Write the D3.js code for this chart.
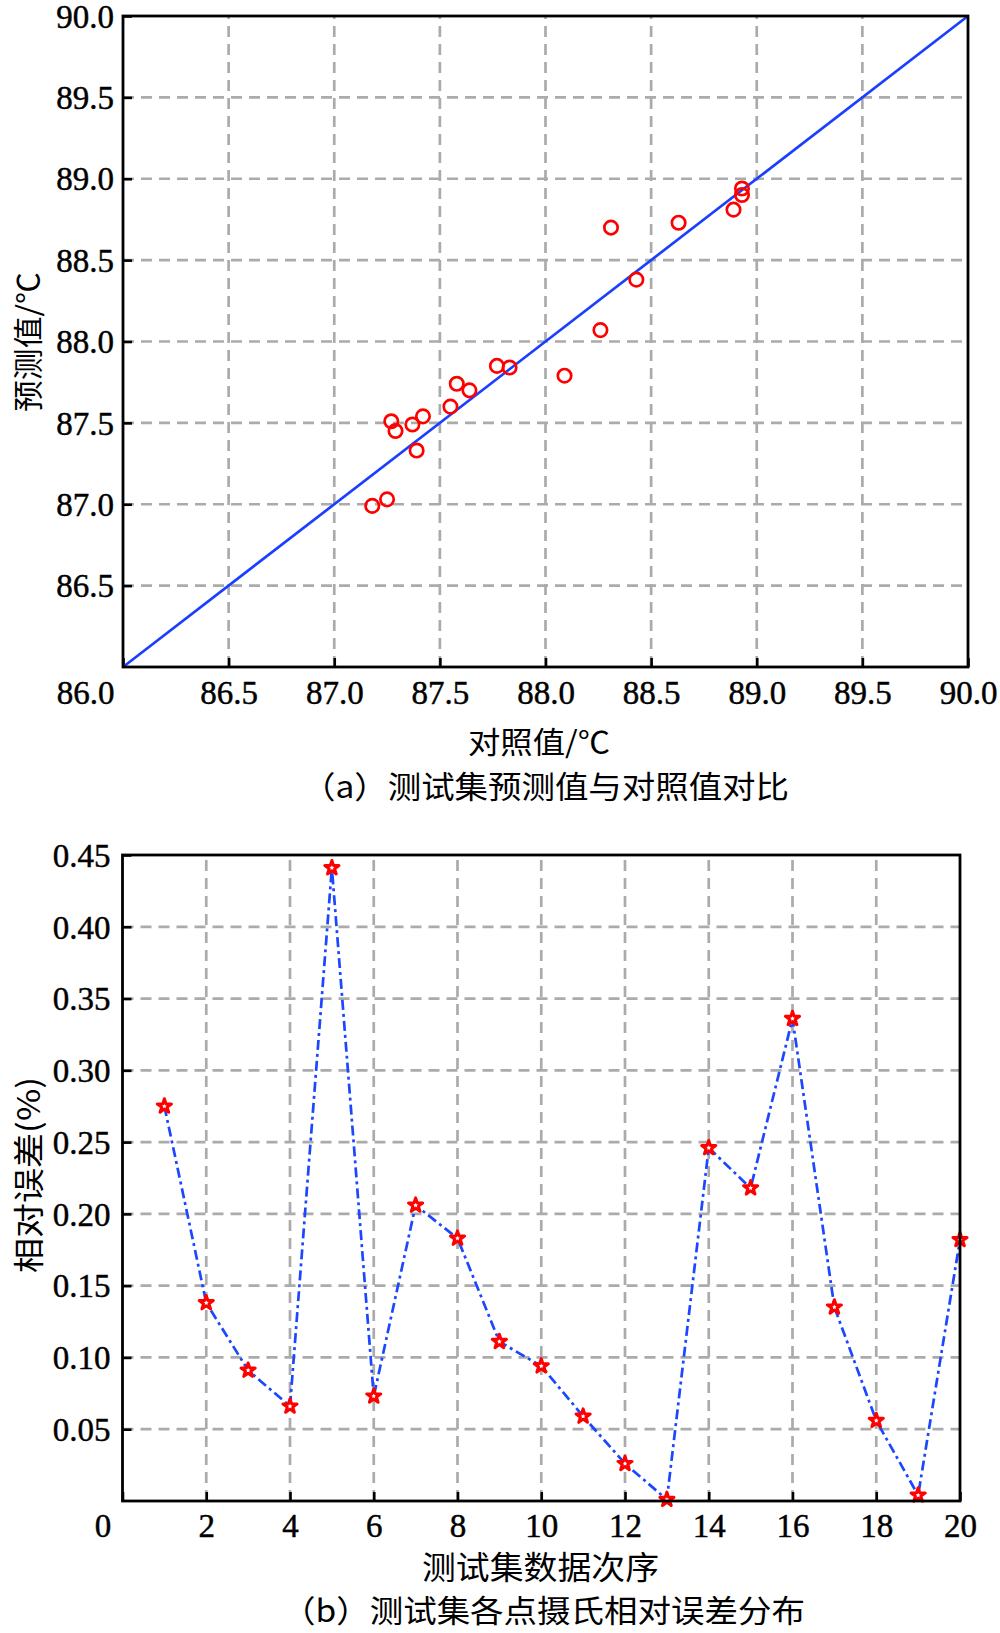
<!DOCTYPE html>
<html><head><meta charset="utf-8">
<script src="https://cdn.jsdelivr.net/npm/d3@7"></script>
<style>
html,body{margin:0;padding:0;background:#fff;}
svg{display:block;}
</style></head>
<body>
<svg id="chart" width="1000" height="1633"></svg>
<script>
// ---------- data ----------
// (a) scatter: control (reference) value vs predicted value, °C
const controlValues = [87.18, 87.25, 87.27, 87.29, 87.39, 87.37, 87.42, 87.55, 87.58, 87.64, 87.77, 87.83, 88.09, 88.26, 88.43, 88.31, 88.63, 88.89, 88.93, 88.93];
const predictedValues = [86.99, 87.03, 87.51, 87.45, 87.33, 87.49, 87.54, 87.60, 87.74, 87.70, 87.85, 87.84, 87.79, 88.07, 88.38, 88.70, 88.73, 88.81, 88.90, 88.94];
const diagLine = [86, 90];
const aTicks = [86.0, 86.5, 87.0, 87.5, 88.0, 88.5, 89.0, 89.5, 90.0];
const aTickLabels = ["86.0","86.5","87.0","87.5","88.0","88.5","89.0","89.5","90.0"];

// (b) relative error per test sample (%)
const sampleIndex = [1,2,3,4,5,6,7,8,9,10,11,12,13,14,15,16,17,18,19,20];
const relError = [0.275, 0.138, 0.091, 0.066, 0.441, 0.073, 0.206, 0.183, 0.111, 0.094, 0.059, 0.026, 0.001, 0.246, 0.218, 0.336, 0.135, 0.056, 0.004, 0.182];
const bXTicks = [0,2,4,6,8,10,12,14,16,18,20];
const bXTickLabels = ["0","2","4","6","8","10","12","14","16","18","20"];
const bYTicks = [0.05,0.10,0.15,0.20,0.25,0.30,0.35,0.40,0.45];
const bYTickLabels = ["0.05","0.10","0.15","0.20","0.25","0.30","0.35","0.40","0.45"];

// texts
const aXTitle = "对照值/℃", aYTitle = "预测值/℃", aCaption = "（a）测试集预测值与对照值对比";
const bXTitle = "测试集数据次序", bYTitle = "相对误差(%)", bCaption = "（b）测试集各点摄氏相对误差分布";

// ---------- drawing ----------
const svg = d3.select("#chart");
const serif = "'Liberation Serif','Times New Roman',serif";
const cjk = "'Noto Sans CJK SC','Noto Sans',sans-serif";
const gridColor = "#ababab";

function frame(g, x, y, xGrid, yGrid) {
  const [x0, x1] = x.range(), [y0, y1] = y.range();
  g.append("g").selectAll("line").data(xGrid).join("line")
    .attr("x1", d => x(d)).attr("x2", d => x(d)).attr("y1", y0).attr("y2", y1)
    .attr("stroke", gridColor).attr("stroke-width", 2.7).attr("stroke-dasharray", "11,7");
  g.append("g").selectAll("line").data(yGrid).join("line")
    .attr("y1", d => y(d)).attr("y2", d => y(d)).attr("x1", x0).attr("x2", x1)
    .attr("stroke", gridColor).attr("stroke-width", 2.7).attr("stroke-dasharray", "11,7");
}
function border(g, x, y) {
  const [x0, x1] = x.range(), [y0, y1] = y.range();
  g.append("rect").attr("x", x0).attr("y", y1).attr("width", x1 - x0).attr("height", y0 - y1)
    .attr("fill", "none").attr("stroke", "#000").attr("stroke-width", 2.8);
}
function styleTickText(sel) {
  sel.attr("font-family", serif).attr("font-size", 33).attr("fill", "#000")
     .attr("stroke", "#000").attr("stroke-width", 0.45);
}

// ===== panel (a) =====
const xA = d3.scaleLinear().domain([86, 90]).range([123, 968]);
const yA = d3.scaleLinear().domain([86, 90]).range([667, 16]);
const gA = svg.append("g");
frame(gA, xA, yA, aTicks.slice(1, -1), aTicks.slice(1, -1));

gA.append("g").attr("transform", `translate(0,${yA.range()[0]})`)
  .call(d3.axisBottom(xA).tickValues(aTicks).tickSize(-9).tickFormat((d,i) => aTickLabels[i]))
  .call(g => { g.select(".domain").remove();
    g.selectAll("line").attr("stroke", "#000").attr("stroke-width", 2.6);
    g.selectAll("text").call(styleTickText)
      .attr("y", 14).attr("dy", "0.71em").attr("dx", (d) => d === 86 ? -38 : 0); });
gA.append("g").attr("transform", `translate(${xA.range()[0]},0)`)
  .call(d3.axisLeft(yA).tickValues(aTicks.slice(1)).tickSize(-9).tickFormat((d,i) => aTickLabels[i+1]))
  .call(g => { g.select(".domain").remove();
    g.selectAll("line").attr("stroke", "#000").attr("stroke-width", 2.6);
    g.selectAll("text").call(styleTickText).attr("x", -9).attr("dy", "0.34em"); });

// diagonal y=x line
gA.append("line")
  .attr("x1", xA(diagLine[0])).attr("y1", yA(diagLine[0]))
  .attr("x2", xA(diagLine[1])).attr("y2", yA(diagLine[1]))
  .attr("stroke", "#1a3fff").attr("stroke-width", 2.7);

// scatter circles
gA.append("g").selectAll("circle").data(controlValues).join("circle")
  .attr("cx", d => xA(d)).attr("cy", (d, i) => yA(predictedValues[i])).attr("r", 6.7)
  .attr("fill", "none").attr("stroke", "#ff0000").attr("stroke-width", 2.7);
border(gA, xA, yA);

// titles (a)
gA.append("text").text(aXTitle).attr("x", 468).attr("y", 753)
  .attr("font-family", cjk).attr("font-size", 30).attr("textLength", 142).attr("lengthAdjust", "spacingAndGlyphs");
gA.append("text").text(aCaption).attr("x", 302).attr("y", 798)
  .attr("font-family", cjk).attr("font-size", 31).attr("textLength", 487).attr("lengthAdjust", "spacingAndGlyphs");
gA.append("text").text(aYTitle).attr("transform", "translate(39,412) rotate(-90)")
  .attr("font-family", cjk).attr("font-size", 30).attr("textLength", 140).attr("lengthAdjust", "spacingAndGlyphs");

// ===== panel (b) =====
const xB = d3.scaleLinear().domain([0, 20]).range([122.5, 960]);
const yB = d3.scaleLinear().domain([0, 0.45]).range([1501, 855]);
const gB = svg.append("g");
frame(gB, xB, yB, bXTicks.slice(1, -1), bYTicks.slice(0, -1));

gB.append("g").attr("transform", `translate(0,${yB.range()[0]})`)
  .call(d3.axisBottom(xB).tickValues(bXTicks).tickSize(-9).tickFormat((d,i) => bXTickLabels[i]))
  .call(g => { g.select(".domain").remove();
    g.selectAll("line").attr("stroke", "#000").attr("stroke-width", 2.6);
    g.selectAll("text").call(styleTickText)
      .attr("y", 13).attr("dy", "0.71em").attr("dx", d => d === 0 ? -20 : 0); });
gB.append("g").attr("transform", `translate(${xB.range()[0]},0)`)
  .call(d3.axisLeft(yB).tickValues(bYTicks).tickSize(-9).tickFormat((d,i) => bYTickLabels[i]))
  .call(g => { g.select(".domain").remove();
    g.selectAll("line").attr("stroke", "#000").attr("stroke-width", 2.6);
    g.selectAll("text").call(styleTickText).attr("x", -12).attr("dy", "0.34em"); });

const lineB = d3.line().x((d, i) => xB(sampleIndex[i])).y(d => yB(d));
gB.append("path").datum(relError).attr("d", lineB)
  .attr("fill", "none").attr("stroke", "#1a47ff").attr("stroke-width", 2.7)
  .attr("stroke-dasharray", "10,4,3,4");

const star = d3.symbol().type(d3.symbolStar).size(62);
gB.append("g").selectAll("path").data(relError).join("path")
  .attr("d", star)
  .attr("transform", (d, i) => `translate(${xB(sampleIndex[i])},${yB(d)})`)
  .attr("fill", "#fff").attr("stroke", "#ff0000").attr("stroke-width", 3).attr("stroke-linejoin", "round");
border(gB, xB, yB);

gB.append("text").text(bXTitle).attr("x", 422).attr("y", 1579)
  .attr("font-family", cjk).attr("font-size", 32).attr("textLength", 237).attr("lengthAdjust", "spacingAndGlyphs");
gB.append("text").text(bCaption).attr("x", 282).attr("y", 1622)
  .attr("font-family", cjk).attr("font-size", 31).attr("textLength", 523).attr("lengthAdjust", "spacingAndGlyphs");
gB.append("text").text(bYTitle).attr("transform", "translate(40,1273) rotate(-90)")
  .attr("font-family", cjk).attr("font-size", 31).attr("textLength", 196).attr("lengthAdjust", "spacingAndGlyphs");
</script>
</body></html>
